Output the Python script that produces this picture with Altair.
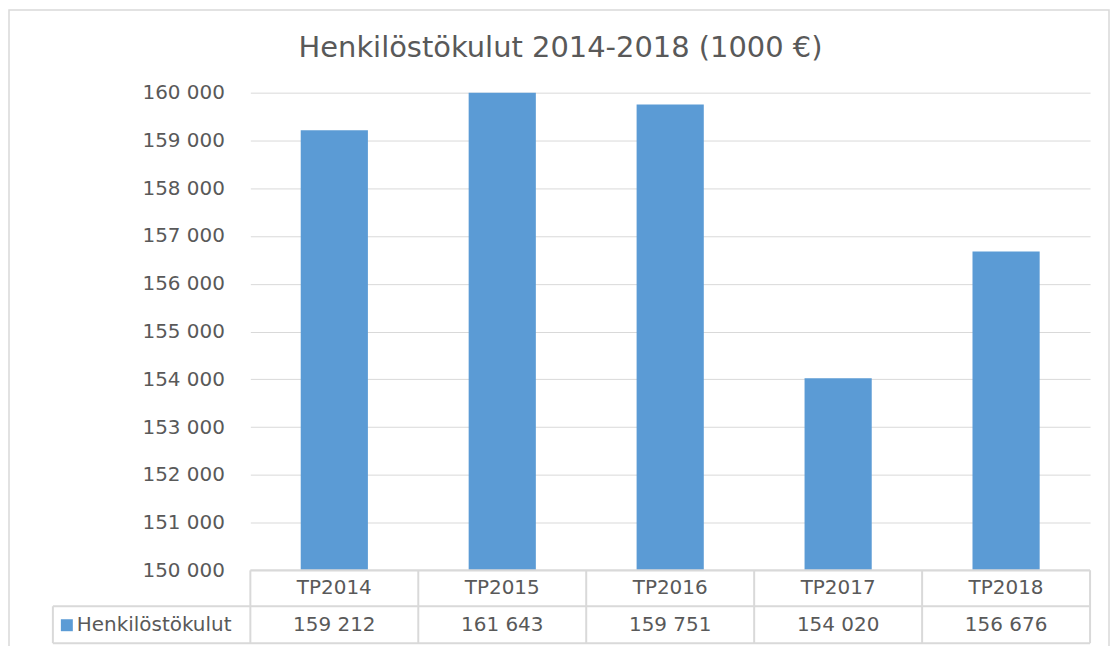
import altair as alt
import pandas as pd

categories = ["TP2014", "TP2015", "TP2016", "TP2017", "TP2018"]
values = [159212, 161643, 159751, 154020, 156676]
series_name = "Henkilöstökulut"
chart_title = "Henkilöstökulut 2014-2018 (1000 €)"
y_ticks = [150000, 151000, 152000, 153000, 154000, 155000, 156000, 157000, 158000, 159000, 160000]

FONT = "DejaVu Sans"
TXT = "#595959"
GRID = "#D9D9D9"
BAR = "#5B9BD5"

W, H = 842, 479
ROW1_Y, ROW2_Y, ROW2_TOP, TABLE_BOTTOM = 497, 534, 515, 552
LEG_LEFT = -198

df = pd.DataFrame({"cat": categories, "value": values})

xbar = alt.X("cat:N", sort=categories, axis=None,
             scale=alt.Scale(paddingInner=0.6, paddingOuter=0.3))
yscale = alt.Scale(domain=[150000, 160000], zero=False, nice=False)

base = alt.Chart(df)

bars = base.mark_bar(color=BAR, clip=True).encode(
    x=xbar,
    y=alt.Y("value:Q", scale=yscale, title=None,
            axis=alt.Axis(values=y_ticks, domain=False, ticks=False,
                          labelPadding=26, labelFont=FONT, labelFontSize=20,
                          labelColor=TXT, gridColor=GRID, gridWidth=1,
                          labelExpr="replace(format(datum.value, ','), ',', ' ')")),
    y2=alt.datum(150000),
)

def xtab(pos):
    return alt.X("cat:N", sort=categories, axis=None,
                 scale=alt.Scale(paddingInner=0, paddingOuter=0), bandPosition=pos)

cat_text = base.mark_text(font=FONT, fontSize=20, color=TXT, baseline="middle").encode(
    x=xtab(0.5), y=alt.value(ROW1_Y), text="cat:N",
)

val_text = base.transform_calculate(
    label="replace(format(datum.value, ','), ',', ' ')"
).mark_text(font=FONT, fontSize=20, color=TXT, baseline="middle").encode(
    x=xtab(0.5), y=alt.value(ROW2_Y), text="label:N",
)

vlines = base.mark_rule(color=GRID, strokeWidth=2).encode(
    x=xtab(0), y=alt.value(H), y2=alt.value(TABLE_BOTTOM),
)
vline_last = base.transform_filter(alt.datum.cat == categories[-1]).mark_rule(
    color=GRID, strokeWidth=2).encode(
    x=xtab(1), y=alt.value(H), y2=alt.value(TABLE_BOTTOM),
)

deco = pd.DataFrame({"k": [0]})
dbase = alt.Chart(deco)
top_line = dbase.mark_rule(color=GRID, strokeWidth=2).encode(
    x=alt.value(0), x2=alt.value(W), y=alt.value(H))
mid_line = dbase.mark_rule(color=GRID, strokeWidth=2).encode(
    x=alt.value(LEG_LEFT), x2=alt.value(W), y=alt.value(ROW2_TOP))
bot_line = dbase.mark_rule(color=GRID, strokeWidth=2).encode(
    x=alt.value(LEG_LEFT), x2=alt.value(W), y=alt.value(TABLE_BOTTOM))
left_line = dbase.mark_rule(color=GRID, strokeWidth=2).encode(
    x=alt.value(LEG_LEFT), y=alt.value(ROW2_TOP), y2=alt.value(TABLE_BOTTOM))
leg_sq = dbase.mark_rect(color=BAR).encode(
    x=alt.value(-190), x2=alt.value(-178), y=alt.value(ROW2_Y - 6), y2=alt.value(ROW2_Y + 6))
leg_txt = dbase.transform_calculate(name=f"'{series_name}'").mark_text(
    font=FONT, fontSize=20, color=TXT, align="left", baseline="middle").encode(
    x=alt.value(-174), y=alt.value(ROW2_Y), text="name:N")
title_txt = dbase.transform_calculate(name=f"'{chart_title}'").mark_text(
    font=FONT, fontSize=29, color=TXT, align="center", baseline="alphabetic").encode(
    x=alt.value(311), y=alt.value(-36), text="name:N")
frame = dbase.mark_rect(fill=None, stroke=GRID, strokeWidth=1.5).encode(
    x=alt.value(-242), x2=alt.value(861), y=alt.value(-83), y2=alt.value(575))

chart = alt.layer(
    frame, bars, top_line, mid_line, bot_line, left_line, vlines, vline_last,
    cat_text, val_text, leg_sq, leg_txt, title_txt
).resolve_scale(x="independent").properties(
    width=W, height=H,
    autosize=alt.AutoSizeParams(type="none"),
    padding={"left": 243, "top": 84, "right": 20, "bottom": 100},
).configure_view(stroke=None)

chart.save("out.html", embed_options={"renderer": "svg", "actions": False})
